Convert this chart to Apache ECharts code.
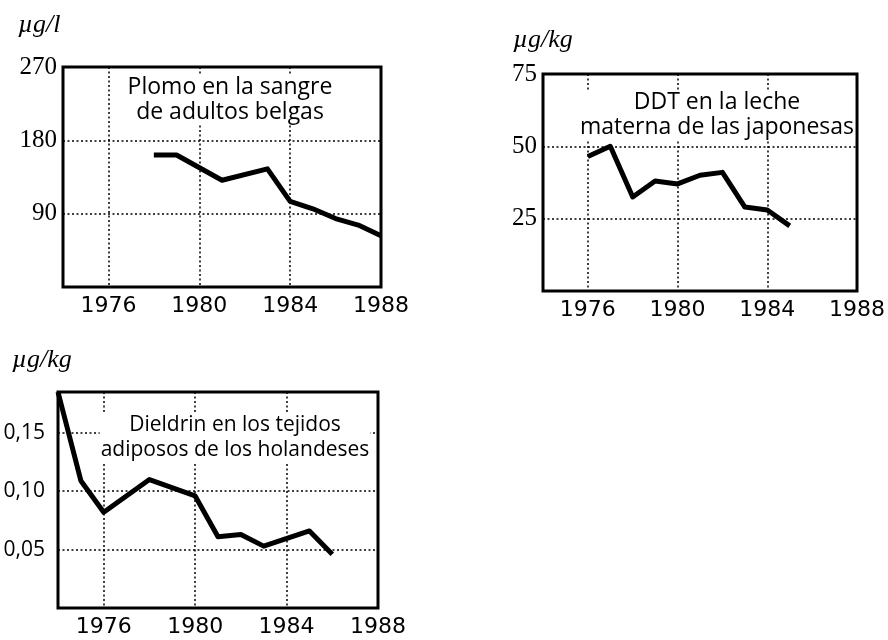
<!DOCTYPE html>
<html>
<head>
<meta charset="utf-8">
<script src="https://cdn.jsdelivr.net/npm/echarts@6/dist/echarts.min.js"></script>
<style>
  html, body { margin: 0; padding: 0; background: #fff; }
  #chart { width: 888px; height: 640px; }
</style>
</head>
<body>
<div id="chart"></div>
<script>
// Plomo en la sangre de adultos belgas (µg/l)
const leadYears = [1978, 1979, 1981, 1983, 1984, 1985, 1986, 1987, 1988];
const leadValues = [162, 162, 131, 145, 105, 96, 84, 76, 63];

// DDT en la leche materna de las japonesas (µg/kg)
const ddtYears = [1976, 1977, 1978, 1979, 1980, 1981, 1982, 1983, 1984, 1985];
const ddtValues = [46.5, 50, 32.5, 38, 37, 40, 41, 29, 28, 22.5];

// Dieldrin en los tejidos adiposos de los holandeses (µg/kg)
const dieldrinYears = [1974, 1975, 1976, 1978, 1980, 1981, 1982, 1983, 1985, 1986];
const dieldrinValues = [0.185, 0.109, 0.082, 0.110, 0.096, 0.061, 0.063, 0.053, 0.066, 0.046];

// Axis ticks
const yearTicks = [1976, 1980, 1984, 1988];
const leadTicks = [90, 180, 270];
const ddtTicks = [25, 50, 75];
const dieldrinTicks = [0.05, 0.10, 0.15];

const pair = (xs, ys) => xs.map((x, i) => [x, ys[i]]);

const dotted = { color: '#000', width: 1.5, type: [2, 2.5] };

function xAxisFor(gridIndex) {
  return {
    type: 'value', gridIndex, min: 1974, max: 1988,
    axisLine: { show: false },
    axisTick: { show: false, customValues: yearTicks },
    axisLabel: {
      customValues: yearTicks, margin: 8,
      fontFamily: 'DejaVu Sans', fontSize: 22, color: '#000',
      formatter: v => String(v)
    },
    splitLine: { show: true, lineStyle: dotted }
  };
}

function yAxisFor(gridIndex, max, ticks, opts) {
  return Object.assign({
    type: 'value', gridIndex, min: 0, max,
    axisLine: { show: false },
    axisTick: { show: false, customValues: ticks },
    axisLabel: {
      customValues: ticks, margin: 6,
      fontFamily: 'Liberation Serif', fontSize: 25, color: '#000'
    },
    splitLine: { show: true, lineStyle: dotted }
  }, opts || {});
}

const frame = { show: true, borderColor: '#000', borderWidth: 3, backgroundColor: 'transparent' };

const lineSeries = (i, data) => ({
  type: 'line', xAxisIndex: i, yAxisIndex: i, data,
  symbol: 'none', silent: true, z: 5,
  lineStyle: { color: '#000', width: 5, cap: 'butt', join: 'round' }
});

// Caption inside a panel, on a white box that hides the grid behind it
const note = (x, y, text, size) => ({
  type: 'text', x, y, z: 20,
  style: {
    text, fill: '#000', font: size + 'px "Open Sans"', lineHeight: 25,
    textAlign: 'center', textVerticalAlign: 'middle',
    backgroundColor: '#fff', padding: [0, 1]
  }
});

const unit = (x, y, text) => ({
  type: 'text', x, y, z: 20,
  style: {
    text, fill: '#000', font: 'italic 26px "Liberation Serif"',
    textAlign: 'left', textVerticalAlign: 'middle'
  }
});

const chart = echarts.init(document.getElementById('chart'), null, { renderer: 'canvas' });
chart.setOption({
  animation: false,
  backgroundColor: '#fff',
  grid: [
    Object.assign({ left: 63, top: 67, width: 318, height: 220 }, frame),
    Object.assign({ left: 543, top: 74, width: 324, height: 217 }, frame),
    Object.assign({ left: 58, top: 392, width: 320, height: 216 }, frame)
  ],
  xAxis: [xAxisFor(0), xAxisFor(1), xAxisFor(2)],
  yAxis: [
    yAxisFor(0, 270, leadTicks),
    yAxisFor(1, 75, ddtTicks),
    yAxisFor(2, 0.185, dieldrinTicks, {
      axisLabel: {
        customValues: dieldrinTicks, margin: 13,
        fontFamily: 'Open Sans', fontSize: 21, color: '#000',
        formatter: v => v.toFixed(2).replace('.', ',')
      }
    })
  ],
  series: [
    lineSeries(0, pair(leadYears, leadValues)),
    lineSeries(1, pair(ddtYears, ddtValues)),
    lineSeries(2, pair(dieldrinYears, dieldrinValues))
  ],
  graphic: [
    unit(18, 25, 'µg/l'),
    unit(513, 40, 'µg/kg'),
    unit(12, 360, 'µg/kg'),
    note(230, 100, 'Plomo en la sangre\nde adultos belgas', 23),
    note(717, 115, 'DDT en la leche\nmaterna de las japonesas', 23),
    note(235, 438, 'Dieldrin en los tejidos\nadiposos de los holandeses', 21)
  ]
});
</script>
</body>
</html>
